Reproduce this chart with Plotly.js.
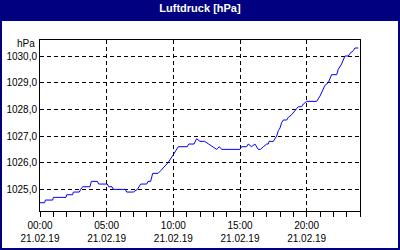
<!DOCTYPE html>
<html>
<head>
<meta charset="utf-8">
<script src="https://cdn.plot.ly/plotly-3.0.1.min.js"></script>
<style>html,body{margin:0;padding:0;background:#000080;}#chart{width:400px;height:250px;}</style>
</head>
<body>
<div id="chart"></div>
<script>
// Hours since 00:00 on 21.02.19
var hours = [0,0.35,0.4,0.95,1.0,1.95,2.0,2.45,2.5,2.95,3.05,3.2,3.75,3.85,4.3,4.4,5.05,5.15,5.4,5.5,6.4,6.5,7.0,7.3,7.55,8.0,8.1,8.3,8.45,8.85,9.05,9.25,9.6,10.0,10.12,10.25,10.37,11.05,11.15,11.55,11.75,12.0,12.35,12.65,13.0,13.25,13.45,13.62,15.0,15.12,15.5,15.62,15.87,16.12,16.37,16.55,16.75,17.0,17.12,17.18,17.5,17.62,17.75,17.87,18.0,18.12,18.25,18.5,18.62,18.87,19.25,19.37,19.62,19.75,20.0,20.75,21.0,21.25,21.37,21.62,21.75,21.87,22.25,22.37,22.62,22.75,22.87,23.12,23.25,23.5,23.62,23.87];
var pressure = [1024.5,1024.5,1024.6,1024.6,1024.7,1024.7,1024.8,1024.8,1024.9,1024.9,1025.0,1025.1,1025.1,1025.3,1025.3,1025.2,1025.2,1025.1,1025.1,1025.0,1025.0,1024.9,1024.9,1025.0,1025.2,1025.2,1025.3,1025.3,1025.6,1025.6,1025.7,1025.8,1026.0,1026.3,1026.4,1026.5,1026.6,1026.6,1026.7,1026.7,1026.9,1026.8,1026.8,1026.7,1026.6,1026.5,1026.6,1026.5,1026.5,1026.6,1026.6,1026.7,1026.6,1026.7,1026.5,1026.5,1026.6,1026.7,1026.7,1026.8,1026.8,1026.9,1027.0,1027.2,1027.3,1027.5,1027.6,1027.6,1027.7,1027.8,1028.0,1028.1,1028.1,1028.2,1028.3,1028.3,1028.5,1028.8,1028.9,1029.0,1029.2,1029.3,1029.3,1029.5,1029.7,1029.9,1030.0,1030.0,1030.1,1030.2,1030.3,1030.3];
var tickHours = [0,5,10,15,20];
var tickLabels = ["00:00<br>21.02.19","05:00<br>21.02.19","10:00<br>21.02.19","15:00<br>21.02.19","20:00<br>21.02.19"];
var yTicks = [1025,1026,1027,1028,1029,1030];

var tickFont = {family:"Liberation Sans, Arial, sans-serif", size:10, color:"#000000"};

var trace = {
  x: hours, y: pressure, type:"scatter", mode:"lines",
  line:{color:"#0000ff", width:1}, hoverinfo:"skip"
};

var layout = {
  width:400, height:250,
  margin:{l:40, r:40, t:40, b:39, pad:0},
  paper_bgcolor:"#000080",
  plot_bgcolor:"rgba(0,0,0,0)",
  separators:",.",
  showlegend:false,
  title:{text:"<b>Luftdruck [hPa]</b>", font:{family:"Liberation Sans, Arial, sans-serif", size:11, color:"#ffffff"},
         x:0.5, xanchor:"center", y:0.966, yanchor:"middle", yref:"container"},
  xaxis:{
    range:[0,24], tickmode:"array", tickvals:tickHours, ticktext:tickLabels,
    showgrid:true, gridcolor:"#000000", gridwidth:1, griddash:"4px,3px",
    showline:true, linecolor:"#000000", linewidth:1, mirror:true,
    ticks:"outside", ticklen:5, tickcolor:"#000000", tickwidth:1,
    minor:{tickmode:"linear", tick0:0, dtick:1, ticks:"outside", ticklen:5, tickcolor:"#000000", showgrid:false},
    tickfont:tickFont, zeroline:false, fixedrange:true
  },
  yaxis:{
    range:[1024.19,1030.6], tickmode:"array", tickvals:yTicks, tickformat:".1f",
    showgrid:true, gridcolor:"#000000", gridwidth:1, griddash:"4px,3px",
    showline:true, linecolor:"#000000", linewidth:1, mirror:true,
    ticks:"", tickfont:tickFont, zeroline:false, fixedrange:true
  },
  shapes:[{type:"rect", xref:"paper", yref:"paper", x0:-0.11875, x1:1.11875, y0:-0.2164, y1:1.1111,
           fillcolor:"#ffffff", line:{width:0}, layer:"below"}],
  annotations:[{text:"hPa", xref:"paper", yref:"paper", x:0, y:0.977, xanchor:"right", yanchor:"middle",
                xshift:-3, showarrow:false, font:tickFont}]
};

Plotly.newPlot("chart", [trace], layout, {staticPlot:true, displayModeBar:false});
</script>
</body>
</html>
